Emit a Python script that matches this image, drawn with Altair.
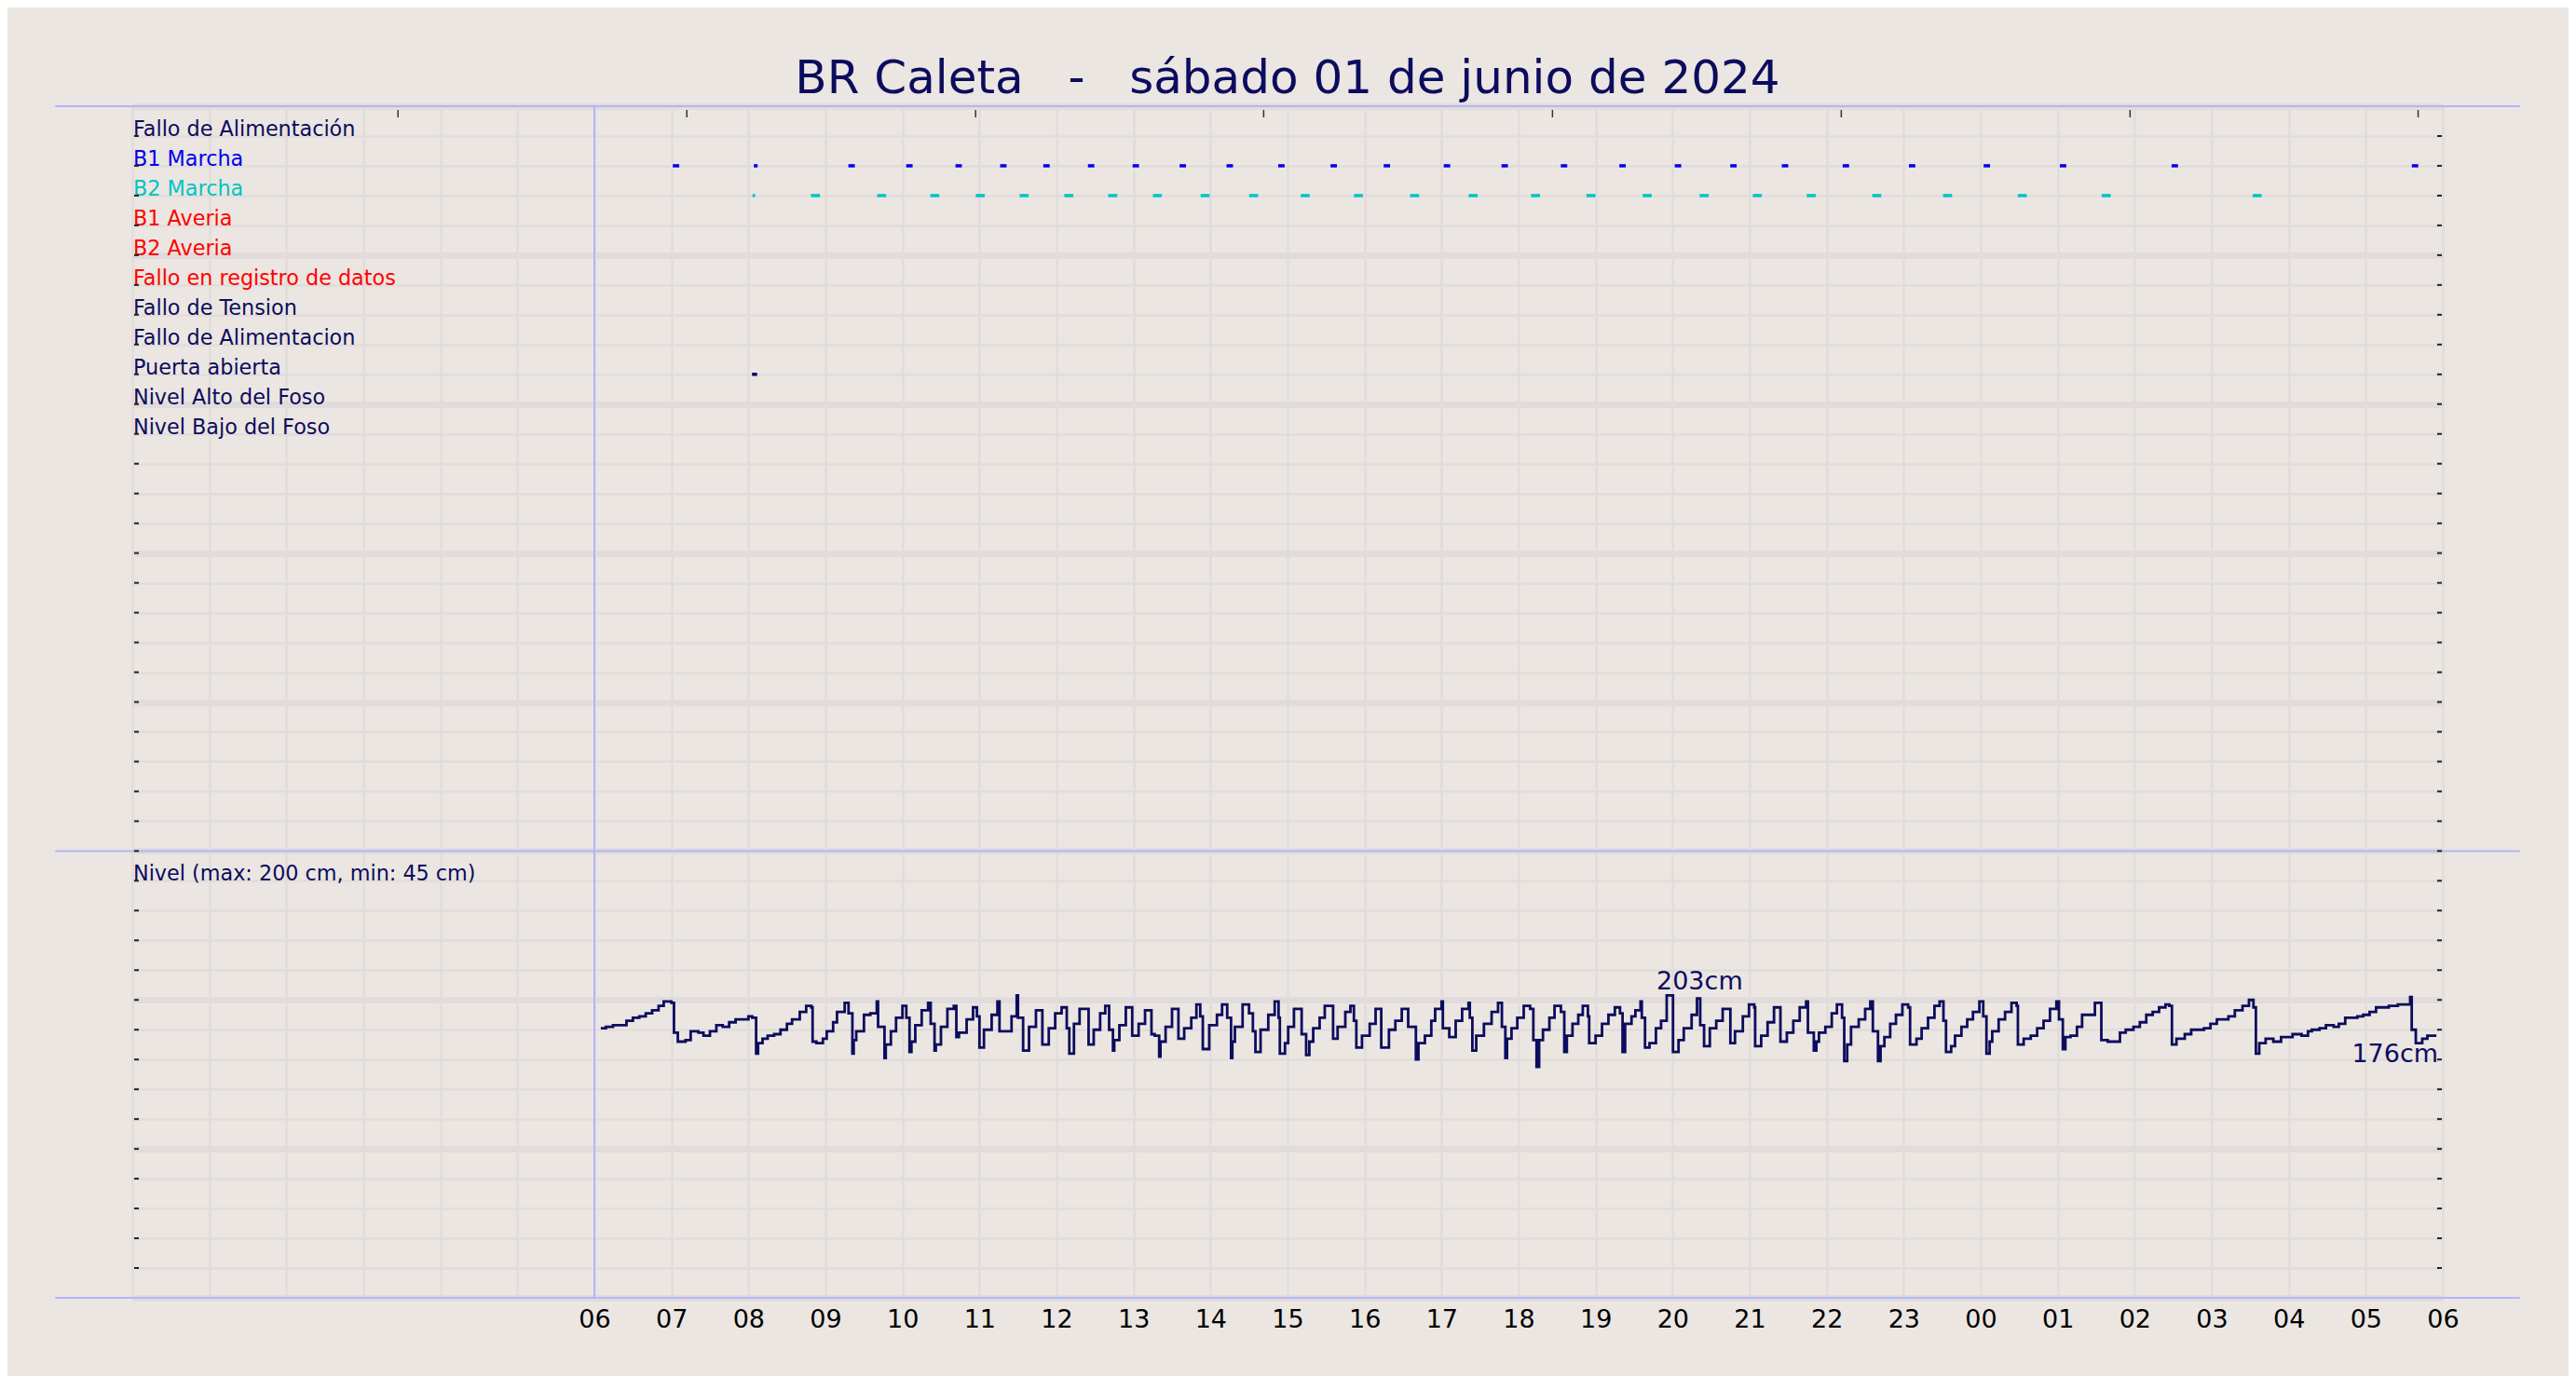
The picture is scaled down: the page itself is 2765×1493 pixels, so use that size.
import altair as alt
import pandas as pd

# ---------------- data ----------------
title_text = "BR Caleta\u00a0\u00a0\u00a0-\u00a0\u00a0\u00a0sábado 01 de junio de 2024"

row_labels = ["Fallo de Alimentación", "B1 Marcha", "B2 Marcha", "B1 Averia", "B2 Averia",
              "Fallo en registro de datos", "Fallo de Tension", "Fallo de Alimentacion",
              "Puerta abierta", "Nivel Alto del Foso", "Nivel Bajo del Foso"]
row_colors = ["#0c0c5e", "#0000ee", "#00c4c4", "#ff0000", "#ff0000",
              "#ff0000", "#0c0c5e", "#0c0c5e", "#0c0c5e", "#0c0c5e", "#0c0c5e"]
level_title = "Nivel (max: 200 cm, min: 45 cm)"
level_title_row = 25

# hours since 00:00 of 01/06 (x axis 00..30 h, labels 06..06)
hour_ticks = list(range(0, 31))
top_tick_hours = [3.45, 7.20, 10.95, 14.69, 18.44, 22.19, 25.94, 29.68]

# pump runs: centre (h) and duration (min)
b1_hours = [7.06, 8.095, 9.34, 10.09, 10.73, 11.31, 11.87, 12.45, 13.03, 13.64, 14.25, 14.92,
            15.60, 16.29, 17.07, 17.82, 18.59, 19.35, 20.07, 20.79, 21.46, 22.25, 23.11, 24.08,
            25.07, 26.52, 29.64]
b1_minutes = [5, 3, 5, 5, 5, 5, 5, 5, 5, 5, 5, 5, 5, 5, 5, 5, 5, 5, 5, 5, 5, 5, 5, 5, 5, 5, 5]
b2_hours = [8.07, 8.87, 9.73, 10.42, 11.01, 11.58, 12.16, 12.73, 13.31, 13.93, 14.56, 15.23,
            15.92, 16.65, 17.41, 18.22, 18.94, 19.67, 20.41, 21.10, 21.80, 22.65, 23.57, 24.54,
            25.63, 27.59]
b2_minutes = [2, 7, 7, 7, 7, 7, 7, 7, 7, 7, 7, 7, 7, 7, 7, 7, 7, 7, 7, 7, 7, 7, 7, 7, 7, 7]
door_hours = [8.08]
door_minutes = [4]

# level: minutes after 06:00, cm
level_min = [5, 9, 14.5, 25, 30, 35, 40, 45, 50, 54, 60, 62, 65, 71, 75, 81, 85, 90, 95, 100, 105, 110,
             120, 123, 126, 127.5, 131, 135, 140, 145, 150, 154, 160, 165, 169, 170, 173, 178, 181, 186,
             189, 195, 198, 201, 202, 204, 210, 215, 220, 221, 226, 227, 231, 235, 240, 243, 245.5, 247,
             250, 255, 260, 262, 265, 266, 270, 275, 280, 282, 284, 290, 295,
             298, 300, 303.5, 309.5, 314, 315.6, 325, 329, 330, 334, 338.6, 344, 349, 354, 359, 364, 368,
             370, 373.6, 378, 385, 389, 394, 398, 401, 404, 405, 409, 414, 419, 424, 429, 434, 436.5, 440,
             441, 445, 450, 455, 459.5, 465, 469, 472, 474, 479, 485, 489, 493, 496, 497, 499, 505, 510,
             513, 515, 519, 525, 530, 533, 534, 538, 540.5, 545, 551, 554.5, 557, 560, 565, 569, 575.5,
             579, 585, 589, 591.7, 593.6,
             598, 604, 608.6, 613, 619, 624, 629, 634, 640, 642, 647, 652, 655, 660, 661, 666, 671, 676,
             681, 682, 684, 687, 693, 699, 704, 707, 709.7, 711, 714.5, 719, 724, 729, 731.5, 734, 736,
             739, 744, 748, 753, 755.6, 757.6, 762, 766.5, 770, 774, 775, 780, 785, 790, 795, 799, 801,
             803, 808, 811, 815, 816, 818.5, 822, 827, 831, 835.4, 840.3, 844.6, 848.7, 854.8, 859,
             861.5, 864.5, 869, 874, 879, 885,
             888.6, 894.7, 899.5, 903.6, 904.3, 909, 914, 919, 924, 929, 934, 939, 944, 945.4, 950, 952,
             954, 959, 964, 968, 972, 973.7, 976, 979, 985, 990, 994, 996, 1000, 1002, 1005, 1009.5, 1014,
             1019, 1023.5, 1025, 1030, 1034, 1039, 1044, 1048, 1051, 1053, 1057, 1060, 1065, 1069.5, 1074,
             1079, 1082, 1084.5, 1087, 1089, 1094, 1099, 1104, 1108, 1109, 1113.5, 1119, 1124, 1129, 1134,
             1139, 1141, 1144, 1146, 1150, 1155, 1159, 1169, 1174, 1179,
             1188.5, 1193, 1199, 1204, 1209, 1214, 1219, 1224, 1227, 1229, 1232.5, 1239, 1244, 1254, 1259,
             1264, 1273, 1278, 1284, 1289, 1292.5, 1294.4, 1297, 1302, 1308, 1314, 1323, 1330, 1335, 1338,
             1344, 1349, 1355, 1359, 1364, 1373.5, 1378, 1383, 1388, 1398, 1405, 1408.5, 1414.6, 1415.8,
             1419, 1424, 1428, 1431.5, 1435]
level_cm = [181, 182, 183, 186, 188, 189, 191, 193, 196, 199, 198, 178, 172, 173, 179, 178, 176, 179, 183, 182, 185, 187,
            189, 188, 164, 171, 174, 176, 177, 180, 184, 187, 192, 196, 195, 172, 171, 174, 179, 185,
            192, 198, 191, 164, 173, 179, 190, 191, 199, 182, 161, 170, 179, 188, 196, 188, 165, 172,
            183, 193, 198, 184, 166, 170, 182, 194, 196, 175, 178, 187, 195,
            189, 168, 180, 190, 199, 179, 189, 203, 188, 166, 182, 193, 170, 181, 191, 195, 181,
            164, 184, 194, 170, 180, 191, 196, 180, 166, 173, 183, 195, 176, 184, 193, 177, 176, 162,
            172, 182, 194, 174, 181, 188, 197, 189, 167, 183, 190, 197, 188, 161, 172, 182, 197, 191,
            179, 165, 180, 190, 199, 188, 164, 171, 182, 194, 177, 163, 172, 181, 188, 196, 174,
            182, 192, 196, 186, 168,
            176, 184, 194, 168, 180, 186, 194, 182, 160, 171, 176, 186, 194, 199, 181, 175, 186, 194,
            198, 188, 166, 176, 184, 192, 198, 182, 161, 174, 181, 188, 196, 194, 173, 155, 173,
            180, 188, 196, 192, 165, 176, 184, 190, 196, 189, 171, 176, 184, 190, 195, 191, 165,
            184, 189, 193, 199, 188, 168, 171, 181, 186, 203, 165, 173, 181, 190, 201,
            183, 169, 181, 186, 194, 171,
            179, 189, 197, 195, 169, 176, 185, 195, 172, 178, 186, 195, 199, 178, 166, 172,
            178, 182, 191, 197, 188, 159, 170, 182, 187, 194, 199, 179, 159, 169, 175, 184, 190,
            197, 195, 170, 174, 181, 188, 196, 199, 186, 165, 169, 176, 182, 187, 192,
            199, 189, 164, 172, 179, 187, 192, 198, 196, 170, 174, 176, 181, 186, 194,
            199, 187, 167, 175, 176, 182, 190, 198, 173, 172,
            178, 180, 182, 185, 190, 192, 195, 197, 196, 170, 174, 177, 180, 181, 184,
            187, 189, 193, 196, 200, 195, 164, 171, 174, 172, 175, 177, 176, 179, 180,
            181, 183, 182, 184, 188, 189, 190, 192, 195, 196, 197, 197, 202, 180,
            171, 174, 176, 176, 176]

# ---------------- styling ----------------
NAVY = "#0c0c5e"
BG = "#ebe6e1"
GRID = "#e1dcdb"
FRAME = "#b4b4fa"
FONT = "DejaVu Sans"

x_scale = alt.Scale(domain=[0, 30], nice=False, zero=False)
y_scale = alt.Scale(domain=[0, 40], nice=False, zero=False)

x_axis = alt.Axis(
    values=hour_ticks,
    labelExpr="datum.value >= 6 ? ((datum.value % 24) < 10 ? '0' : '') + (datum.value % 24) : ''",
    grid=True, gridColor=GRID, gridWidth=2.5, ticks=False, domain=False,
    labelFontSize=27, labelColor="#000000", labelFont=FONT, labelPadding=10,
    title=None, labelFlush=False, labelOverlap=False, labelBound=False,
)
y_axis = alt.Axis(
    values=list(range(41)), grid=True, gridColor=GRID,
    gridWidth={"condition": {"test": "datum.value % 5 === 0", "value": 7}, "value": 2.3},
    labels=False, ticks=False, domain=False, title=None,
)

def X(f):
    return alt.X(f, type="quantitative", scale=x_scale, axis=x_axis)

def Y(f):
    return alt.Y(f, type="quantitative", scale=y_scale, axis=y_axis)

# ---------------- tables ----------------
labels_df = pd.DataFrame({
    "t": row_labels + [level_title],
    "c": row_colors + [NAVY],
    "y": [39 - i for i in range(len(row_labels))] + [39 - level_title_row],
    "h": 0.0,
})

ev_rows = []
for name, hrs, mins, col in [("B1 Marcha", b1_hours, b1_minutes, "#0000ee"),
                             ("B2 Marcha", b2_hours, b2_minutes, "#00c4c4"),
                             ("Puerta abierta", door_hours, door_minutes, NAVY)]:
    r = row_labels.index(name)
    for hc, mn in zip(hrs, mins):
        ev_rows.append({"h": hc - mn / 120.0, "h2": hc + mn / 120.0, "y": 39 - r, "c": col})
events_df = pd.DataFrame(ev_rows)

level_df = pd.DataFrame({"m": level_min, "cm": level_cm})
imax = level_df["cm"][::-1].idxmax()
max_df = level_df.loc[[imax]].assign(t=lambda d: d["cm"].astype(int).astype(str) + "cm")
last_df = level_df.tail(1).assign(t=lambda d: d["cm"].astype(int).astype(str) + "cm")

frame_h_df = pd.DataFrame({"y": [40, 15, 0], "h": [-1, -1, -1], "h2": [31, 31, 31]})
frame_v_df = pd.DataFrame({"h": [6], "y": [0], "y2": [40]})
rows_df = pd.DataFrame({"y": list(range(1, 40))})
top_df = pd.DataFrame({"h": top_tick_hours})
title_df = pd.DataFrame({"t": [title_text], "h": [15.0]})

to_xy = dict(h="6 + datum.m / 60", y="datum.cm / 20")

# ---------------- layers ----------------
frame_h = alt.Chart(frame_h_df).mark_rule(color=FRAME, strokeWidth=2).encode(
    x=X("h"), x2="h2", y=Y("y"))
frame_v = alt.Chart(frame_v_df).mark_rule(color=FRAME, strokeWidth=2).encode(
    x=X("h"), y=Y("y"), y2="y2")

left_ticks = alt.Chart(rows_df).mark_rule(color="#222222", strokeWidth=2).encode(
    y=Y("y"), x=alt.value(2), x2=alt.value(7))
right_ticks = alt.Chart(rows_df).mark_rule(color="#222222", strokeWidth=2).encode(
    y=Y("y"), x=alt.value(2474), x2=alt.value(2479))
top_ticks = alt.Chart(top_df).mark_rule(color="#333333", strokeWidth=1.5).encode(
    x=X("h"), y=alt.value(4), y2=alt.value(12))

events = alt.Chart(events_df).mark_rule(strokeWidth=3.5).encode(
    x=X("h"), x2="h2", y=Y("y"), color=alt.Color("c:N", scale=None))

level = alt.Chart(level_df).transform_calculate(**to_xy).mark_line(
    interpolate="step-after", color=NAVY, strokeWidth=2.8).encode(
    x=X("h"), y=Y("y"), order="m:Q")

label_text = alt.Chart(labels_df).mark_text(
    align="left", baseline="alphabetic", dx=1, dy=0, fontSize=22.3, font=FONT).encode(
    x=X("h"), y=Y("y"), text="t:N", color=alt.Color("c:N", scale=None))

max_text = alt.Chart(max_df).transform_calculate(**to_xy).mark_text(
    align="left", baseline="alphabetic", dx=-11, dy=-6, fontSize=27, font=FONT, color=NAVY).encode(
    x=X("h"), y=Y("y"), text="t:N")
last_text = alt.Chart(last_df).transform_calculate(**to_xy).mark_text(
    align="right", baseline="alphabetic", dx=2, dy=28, fontSize=27, font=FONT, color=NAVY).encode(
    x=X("h"), y=Y("y"), text="t:N")

title_mark = alt.Chart(title_df).mark_text(
    align="center", baseline="alphabetic", fontSize=50, font=FONT, color=NAVY).encode(
    x=X("h"), y=alt.value(-14), text="t:N")

chart = alt.layer(
    frame_v, events, level, frame_h, label_text, max_text, last_text,
    left_ticks, right_ticks, top_ticks, title_mark,
).properties(
    width=2480, height=1279,
    autosize=alt.AutoSizeParams(type="none"),
    padding={"left": 134, "top": 106, "right": 135, "bottom": 84},
    background=BG,
).configure_view(strokeWidth=0, fill=BG)

chart.save("out.html", embed_options={"renderer": "svg", "actions": False})
